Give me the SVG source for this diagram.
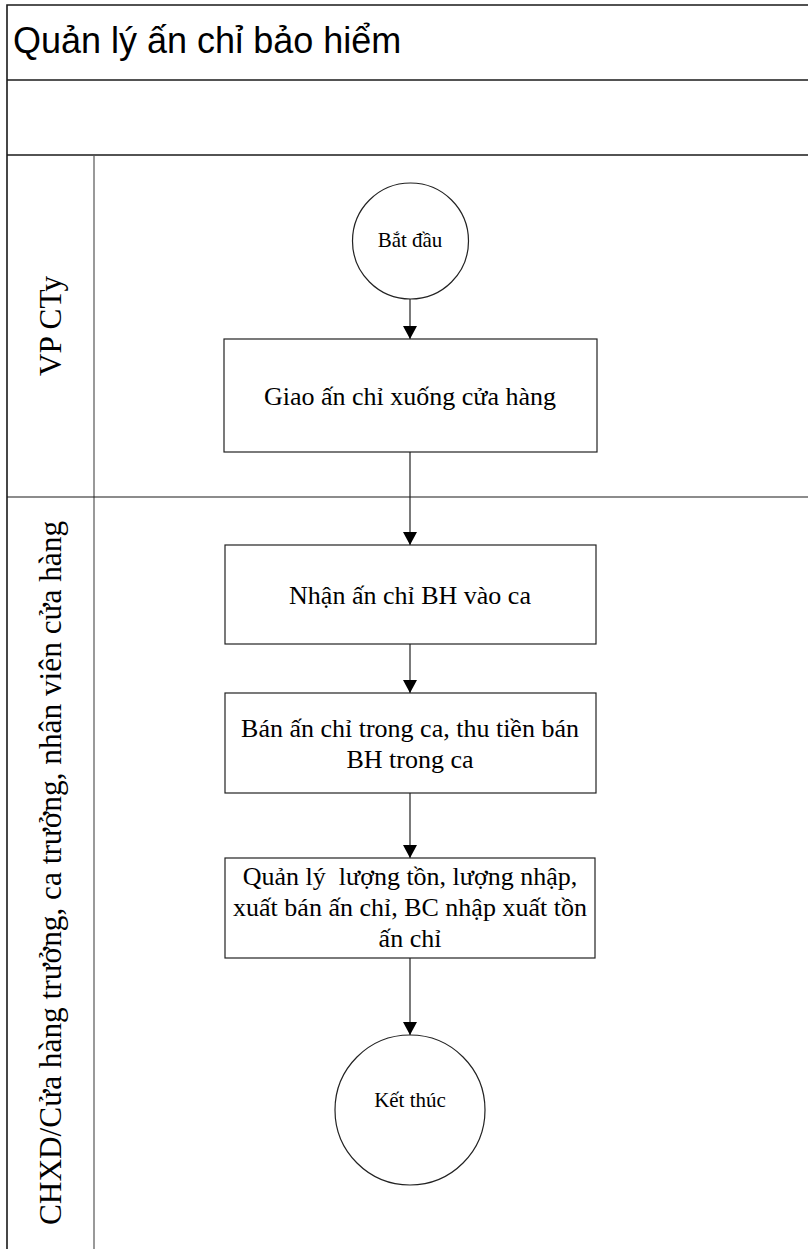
<svg xmlns="http://www.w3.org/2000/svg" width="808" height="1249" viewBox="0 0 808 1249">
<style>
.frame{fill:none;stroke:#1a1a1a;stroke-width:1.6}
.lane{fill:none;stroke:#555;stroke-width:1.2}
.node{fill:#fff;stroke:#222;stroke-width:1.2}
.conn{fill:none;stroke:#222;stroke-width:1.2}
.t{font-family:"Liberation Serif","Times New Roman",serif;fill:#000;text-anchor:middle}
.box{font-size:26px}
.term{font-size:21px}
.lbl{font-size:31.3px}
</style>
<defs>
<marker id="ah" viewBox="0 0 13 14" refX="13" refY="7" markerWidth="13" markerHeight="14" markerUnits="userSpaceOnUse" orient="auto">
<path d="M0,0 L13,7 L0,14 Z" fill="#000"/>
</marker>
</defs>
<rect width="808" height="1249" fill="#fff"/>
<g id="pool">
<path class="frame" d="M7,1249 V5 H812"/>
<line class="frame" x1="7" y1="80" x2="812" y2="80"/>
<line class="frame" x1="7" y1="155" x2="812" y2="155"/>
<line class="lane" x1="94" y1="155" x2="94" y2="1249"/>
<line class="frame" x1="7" y1="497" x2="812" y2="497" style="stroke-width:1.2"/>
<text x="13" y="53" style="font-family:'Liberation Sans',Arial,sans-serif;font-size:36px;fill:#000">Quản lý ấn chỉ bảo hiểm</text>
</g>
<g id="lane-vp">
<text class="t lbl" transform="translate(61,326) rotate(-90)">VP CTy</text>
</g>
<g id="lane-chxd">
<text class="t lbl" transform="translate(61,873) rotate(-90)">CHXD/Cửa hàng trưởng, ca trưởng, nhân viên cửa hàng</text>
</g>
<g id="connectors">
<line class="conn" x1="410" y1="299" x2="410" y2="339" marker-end="url(#ah)"/>
<line class="conn" x1="410" y1="452" x2="410" y2="545" marker-end="url(#ah)"/>
<line class="conn" x1="410" y1="644" x2="410" y2="693" marker-end="url(#ah)"/>
<line class="conn" x1="410" y1="793" x2="410" y2="858" marker-end="url(#ah)"/>
<line class="conn" x1="410" y1="958" x2="410" y2="1035" marker-end="url(#ah)"/>
</g>
<g id="start">
<circle class="node" cx="410.5" cy="241" r="58"/>
<text class="t term" x="410" y="247">Bắt đầu</text>
</g>
<g id="giao">
<rect class="node" x="224" y="339" width="373" height="113"/>
<text class="t box" x="410" y="405">Giao ấn chỉ xuống cửa hàng</text>
</g>
<g id="nhan">
<rect class="node" x="225" y="545" width="371" height="99"/>
<text class="t box" x="410" y="604">Nhận ấn chỉ BH vào ca</text>
</g>
<g id="ban">
<rect class="node" x="225" y="693" width="371" height="100"/>
<text class="t box" x="410" y="737">Bán ấn chỉ trong ca, thu tiền bán</text>
<text class="t box" x="410" y="768">BH trong ca</text>
</g>
<g id="quanly">
<rect class="node" x="225" y="858" width="370" height="100"/>
<text class="t box" x="410" y="885" style="white-space:pre">Quản lý  lượng tồn, lượng nhập,</text>
<text class="t box" x="410" y="916">xuất bán ấn chỉ, BC nhập xuất tồn</text>
<text class="t box" x="410" y="947">ấn chỉ</text>
</g>
<g id="end">
<circle class="node" cx="410" cy="1110" r="75"/>
<text class="t term" x="410" y="1107">Kết thúc</text>
</g>
</svg>
